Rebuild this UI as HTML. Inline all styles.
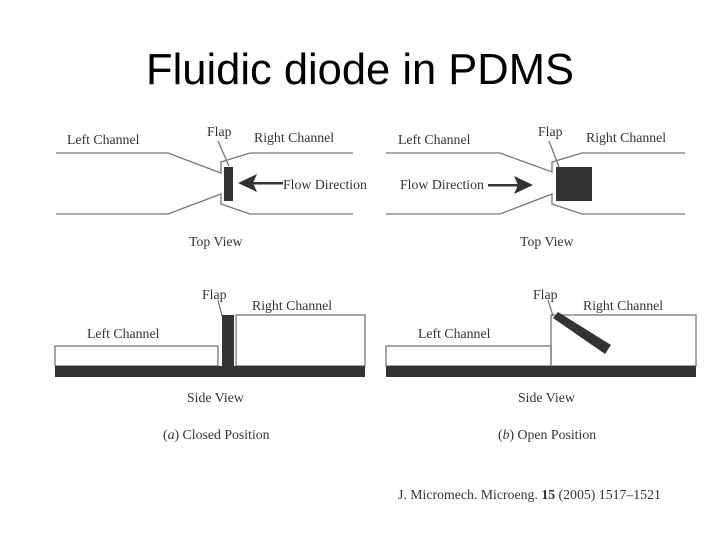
<!DOCTYPE html>
<html><head><meta charset="utf-8"><style>
body{margin:0;background:#fff;width:720px;height:540px;overflow:hidden}
svg text{font-family:"Liberation Serif",serif;font-size:13.8px;fill:#333}
</style></head><body>
<svg width="720" height="540" viewBox="0 0 720 540" xmlns="http://www.w3.org/2000/svg">
<text x="360" y="84" text-anchor="middle" style="font-family:'Liberation Sans',sans-serif;font-size:43.5px;fill:#000">Fluidic diode in PDMS</text>
<g fill="none" stroke="#777" stroke-width="1.3">
<polyline points="56,153 168,153 221,173 221,162 250,153 353,153"/>
<polyline points="56,214 168,214 221,194 221,204 250,214 353,214"/>
<line x1="229" y1="166" x2="218" y2="141"/>
<polyline points="386,153 500,153 552,172 552,162 582,153 685,153"/>
<polyline points="386,214 500,214 552,194 552,204 582,214 685,214"/>
<line x1="559" y1="167" x2="549" y2="141"/>
<rect x="55" y="346" width="163" height="20"/>
<rect x="236" y="315" width="129" height="51"/>
<rect x="386" y="346" width="165" height="20"/>
<rect x="551" y="315" width="145" height="51"/>
<line x1="222" y1="316" x2="218" y2="300"/>
<line x1="553" y1="316" x2="548" y2="300"/>
</g>
<g fill="#333">
<rect x="224" y="167" width="9" height="34"/>
<rect x="556" y="167" width="36" height="34"/>
<polygon points="238,183 257,174 253,183 257,192"/>
<rect x="253" y="182" width="30" height="2.5"/>
<polygon points="533,185 514,176 518,185 514,194"/>
<rect x="488" y="184" width="30" height="2.5"/>
<rect x="55" y="366" width="310" height="11"/>
<rect x="386" y="366" width="310" height="11"/>
<rect x="222" y="315" width="12" height="51"/>
<polygon points="553,318 558,312 611,345 605,354"/>
</g>
<text x="67" y="144">Left Channel</text>
<text x="207" y="136">Flap</text>
<text x="254" y="142">Right Channel</text>
<text x="283" y="189">Flow Direction</text>
<text x="189" y="246">Top View</text>
<text x="398" y="144">Left Channel</text>
<text x="538" y="136">Flap</text>
<text x="586" y="142">Right Channel</text>
<text x="400" y="189">Flow Direction</text>
<text x="520" y="246">Top View</text>
<text x="202" y="299">Flap</text>
<text x="252" y="310">Right Channel</text>
<text x="87" y="338">Left Channel</text>
<text x="187" y="402">Side View</text>
<text x="163" y="439">(<tspan font-style="italic">a</tspan>) Closed Position</text>
<text x="533" y="299">Flap</text>
<text x="583" y="310">Right Channel</text>
<text x="418" y="338">Left Channel</text>
<text x="518" y="402">Side View</text>
<text x="498" y="439">(<tspan font-style="italic">b</tspan>) Open Position</text>
<text x="398" y="499">J. Micromech. Microeng. <tspan font-weight="bold">15</tspan> (2005) 1517–1521</text>
</svg>
</body></html>
